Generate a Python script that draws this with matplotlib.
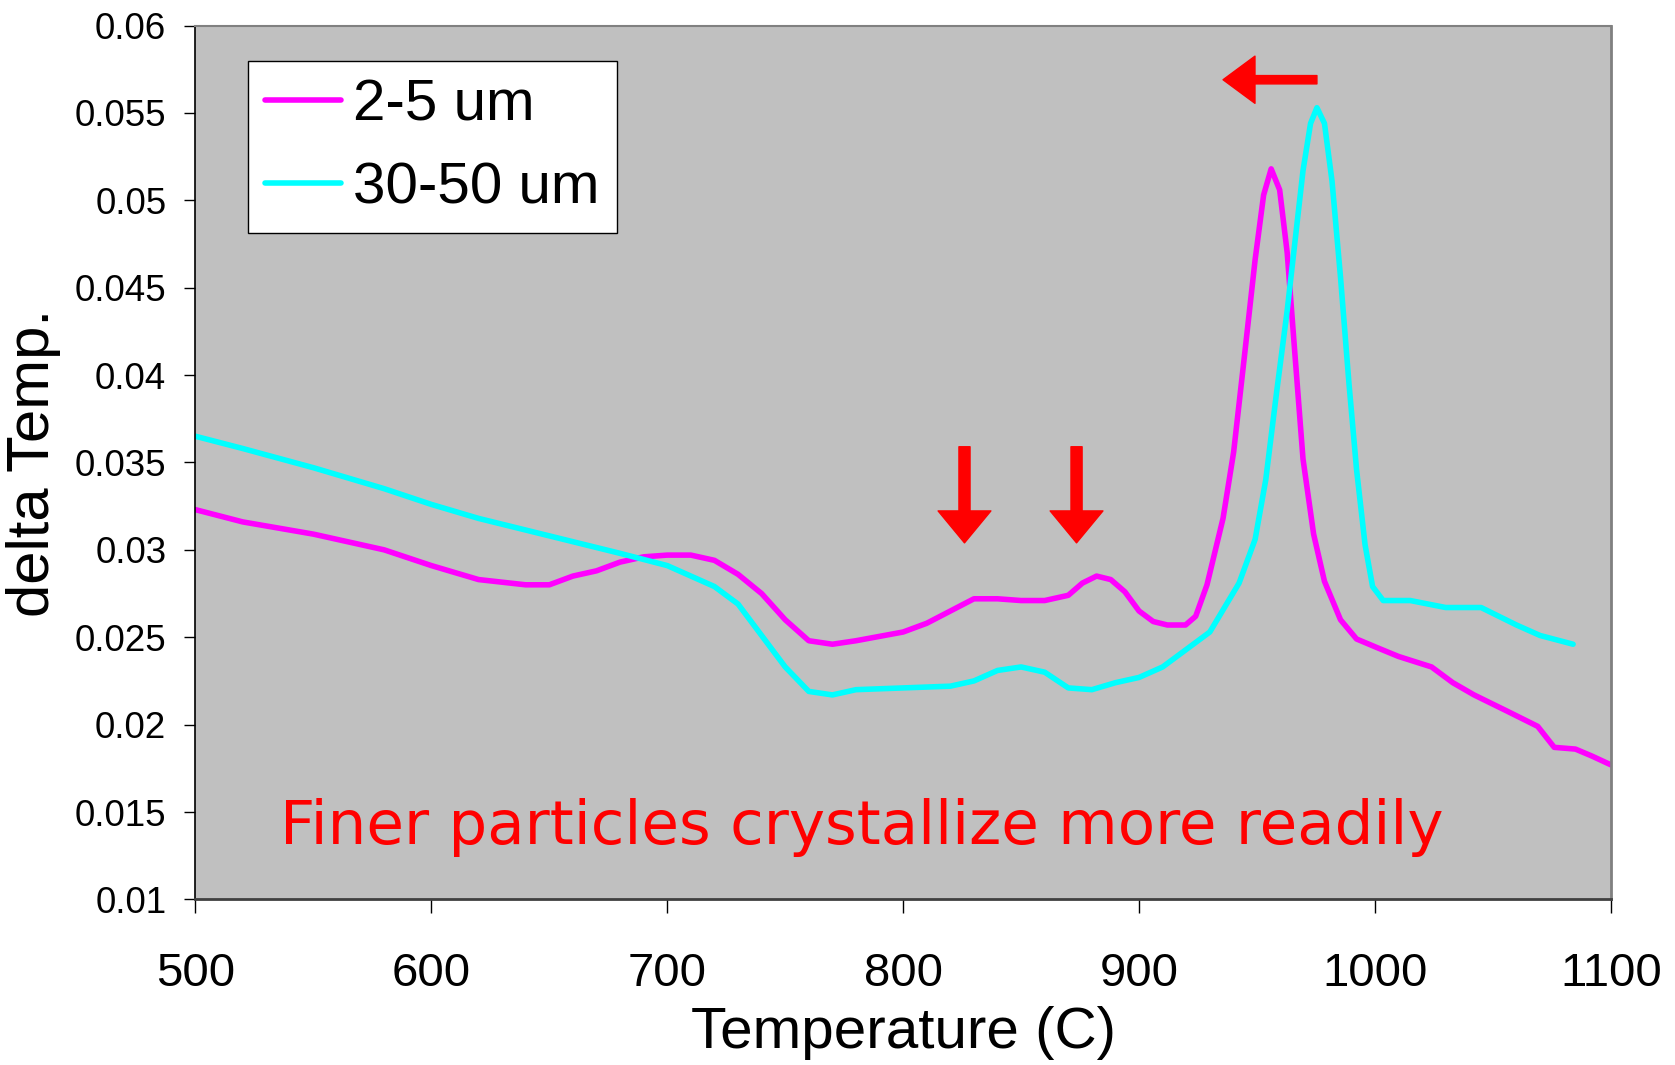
import matplotlib
matplotlib.use('Agg')
import matplotlib.pyplot as plt

# DTA curves
temp_fine = [500, 520, 550, 580, 600, 620, 640, 650, 660, 670, 680, 690, 700, 710,
             720, 730, 740, 750, 760, 770, 780, 800, 810, 820, 830, 840, 850, 860,
             870, 876, 882, 888, 894, 900, 906, 912, 919.7, 924, 928.8, 935.6, 940.1,
             944.6, 949.2, 952.8, 956, 959.6, 962.8, 965.9, 969.5, 974, 978.6, 985.4,
             992.2, 1001, 1010, 1024, 1033, 1042, 1055.6, 1069, 1076, 1085, 1092, 1100]
dt_fine = [0.0323, 0.0316, 0.0309, 0.0300, 0.0291, 0.0283, 0.0280, 0.0280, 0.0285,
           0.0288, 0.0293, 0.0296, 0.0297, 0.0297, 0.0294, 0.0286, 0.0275, 0.0260,
           0.0248, 0.0246, 0.0248, 0.0253, 0.0258, 0.0265, 0.0272, 0.0272, 0.0271,
           0.0271, 0.0274, 0.0281, 0.0285, 0.0283, 0.0276, 0.0265, 0.0259, 0.0257,
           0.0257, 0.0262, 0.0280, 0.0318, 0.0356, 0.0410, 0.0466, 0.0503, 0.0518,
           0.0506, 0.0470, 0.0415, 0.0352, 0.0309, 0.0282, 0.0260, 0.0249, 0.0244,
           0.0239, 0.0233, 0.0224, 0.0217, 0.0208, 0.0199, 0.0187, 0.0186, 0.0182,
           0.0177]

temp_coarse = [500, 520, 550, 580, 600, 620, 650, 680, 700, 720, 730, 740, 750, 760,
               770, 780, 800, 820, 830, 840, 850, 860, 870, 880, 890, 900, 910, 920,
               930, 942.4, 949.2, 953.7, 958.2, 962.8, 966.4, 969.5, 972.7, 975.4,
               978.6, 981.8, 985.4, 989, 992.2, 995.8, 999, 1003.5, 1015, 1030, 1045,
               1060, 1070, 1084]
dt_coarse = [0.0365, 0.0358, 0.0347, 0.0335, 0.0326, 0.0318, 0.0308, 0.0298, 0.0291,
             0.0279, 0.0269, 0.0251, 0.0233, 0.0219, 0.0217, 0.0220, 0.0221, 0.0222,
             0.0225, 0.0231, 0.0233, 0.0230, 0.0221, 0.0220, 0.0224, 0.0227, 0.0233,
             0.0243, 0.0253, 0.0281, 0.0306, 0.0340, 0.0389, 0.0437, 0.0480, 0.0517,
             0.0544, 0.0553, 0.0544, 0.0511, 0.0456, 0.0395, 0.0346, 0.0303, 0.0279,
             0.0271, 0.0271, 0.0267, 0.0267, 0.0257, 0.0251, 0.0246]

labels = ['2-5 um', '30-50 um']
colors = ['#FF00FF', '#00FFFF']

fig = plt.figure(figsize=(16.75, 10.65), dpi=100)
ax = fig.add_axes([0.1167, 0.1555, 0.845, 0.8205])
ax.set_facecolor('#C0C0C0')

ax.plot(temp_fine, dt_fine, color=colors[0], lw=4, label=labels[0],
        solid_joinstyle='round', solid_capstyle='round')
ax.plot(temp_coarse, dt_coarse, color=colors[1], lw=4, label=labels[1],
        solid_joinstyle='round', solid_capstyle='round')

ax.set_xlim(500, 1100)
ax.set_ylim(0.01, 0.06)
ax.set_xticks([500, 600, 700, 800, 900, 1000, 1100])
ax.set_yticks([0.01, 0.015, 0.02, 0.025, 0.03, 0.035, 0.04, 0.045, 0.05, 0.055, 0.06])
ax.set_yticklabels(['0.01', '0.015', '0.02', '0.025', '0.03', '0.035', '0.04',
                    '0.045', '0.05', '0.055', '0.06'])

for t in ax.get_yticklabels():
    t.set_family('Liberation Sans')
for t in ax.get_xticklabels():
    t.set_family('Liberation Sans')
ax.tick_params(axis='y', labelsize=26.5, length=8, width=1, pad=13, direction='out')
ax.tick_params(axis='x', labelsize=34, length=10, width=1, pad=28, direction='out')

ax.spines['left'].set_color('black')
ax.spines['left'].set_linewidth(1.2)
ax.spines['bottom'].set_color('#404040')
ax.spines['bottom'].set_linewidth(2)
ax.spines['top'].set_color('#808080')
ax.spines['top'].set_linewidth(1.5)
ax.spines['right'].set_color('#808080')
ax.spines['right'].set_linewidth(2)

ax.set_xlabel('Temperature (C)', fontsize=42, family='Liberation Sans', labelpad=7)
ax.set_ylabel('delta Temp.', fontsize=43, family='Liberation Sans', labelpad=10)

leg = ax.legend(loc='upper left', bbox_to_anchor=(0.037, 0.9595), borderaxespad=0,
                prop={'family': 'Liberation Sans', 'size': 42}, fancybox=False,
                framealpha=1, edgecolor='black', handlelength=1.3, handletextpad=0.2,
                borderpad=0.3, labelspacing=0.5)
leg.get_frame().set_linewidth(1)

ax.text(536, 0.0141, 'Finer particles crystallize more readily', color='red',
        fontsize=44, family='DejaVu Sans', va='center', ha='left')

arrow_style = 'simple,head_length=2.3,head_width=3.8,tail_width=0.8'
for x in [826, 873.5]:
    ax.annotate('', xy=(x, 0.0304), xytext=(x, 0.0359),
                arrowprops=dict(arrowstyle=arrow_style, mutation_scale=10,
                                color='red', shrinkA=0, shrinkB=0))
ax.annotate('', xy=(935.6, 0.0569), xytext=(975.4, 0.0569),
            arrowprops=dict(arrowstyle='simple,head_length=2.3,head_width=3.4,tail_width=0.6',
                            mutation_scale=10, color='red', shrinkA=0, shrinkB=0))

fig.savefig('out.png', dpi=100)
